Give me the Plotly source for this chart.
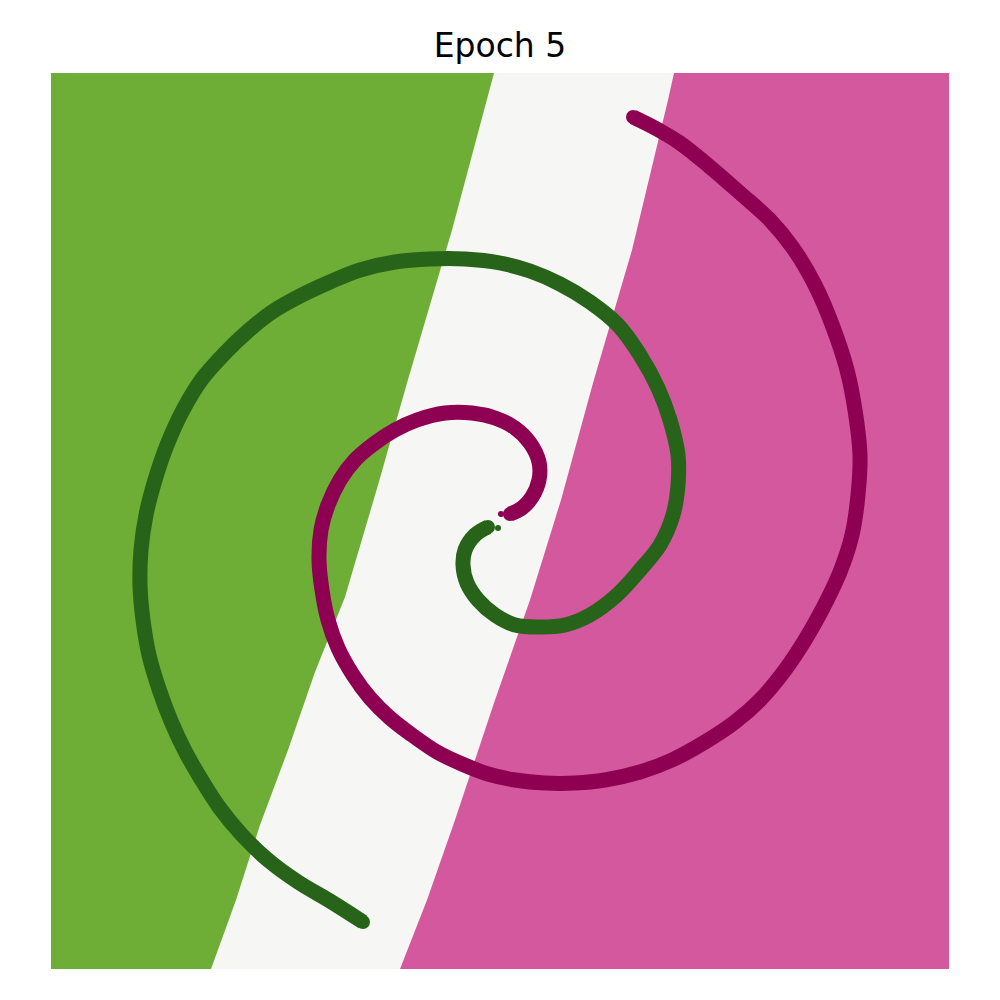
import plotly.graph_objects as go

# Decision-region boundaries (data units)
left_bx = [-0.06, -0.48, -0.93, -1.22, -1.55, -1.85, -2.12, -2.40, -2.64, -2.89]
left_by = [4.48, 2.91, 1.38, 0.36, -0.76, -1.51, -2.29, -3.04, -3.79, -4.48]
right_bx = [1.74, 1.68, 1.32, 0.93, 0.61, 0.30, -0.05, -0.45, -0.73, -1.00]
right_by = [4.48, 4.21, 2.71, 1.38, 0.21, -0.79, -1.79, -2.99, -3.79, -4.48]

X_MIN, X_MAX = -4.49, 4.49
Y_MIN, Y_MAX = -4.48, 4.48

# Class A (green) spiral
green_x = [-0.12, -0.25, -0.35, -0.37, -0.33, -0.22, -0.05, 0.15, 0.40, 0.65, 0.90, 1.17, 1.40,
           1.60, 1.73, 1.78, 1.78, 1.70, 1.58, 1.40, 1.18, 0.90, 0.60, 0.30, 0.00, -0.35, -0.70,
           -1.05, -1.40, -1.70, -2.00, -2.28, -2.52, -2.75, -2.98, -3.17, -3.33, -3.45, -3.54,
           -3.59, -3.60, -3.57, -3.51, -3.41, -3.29, -3.15, -2.99, -2.81, -2.58, -2.32, -2.02,
           -1.70, -1.37]
green_y = [-0.06, -0.14, -0.29, -0.44, -0.62, -0.79, -0.94, -1.04, -1.06, -1.04, -0.94, -0.74, -0.49,
           -0.24, 0.06, 0.36, 0.66, 1.01, 1.33, 1.66, 1.96, 2.19, 2.37, 2.50, 2.58, 2.62, 2.62,
           2.59, 2.51, 2.39, 2.25, 2.09, 1.90, 1.68, 1.42, 1.11, 0.76, 0.41, 0.06,
           -0.29, -0.64, -0.99, -1.34, -1.68, -2.00, -2.30, -2.58, -2.86, -3.14, -3.39, -3.61,
           -3.80, -4.01]
green_dot_x = [-0.02]
green_dot_y = [-0.07]

# Class B (magenta) spiral
mag_x = [0.10, 0.22, 0.32, 0.39, 0.39, 0.30, 0.15, -0.05, -0.28, -0.55, -0.83, -1.05, -1.25,
         -1.45, -1.60, -1.72, -1.79, -1.81, -1.78, -1.72, -1.62, -1.47, -1.30, -1.10, -0.88,
         -0.63, -0.38, -0.12, 0.15, 0.45, 0.75, 1.05, 1.40, 1.72, 2.05, 2.35, 2.60, 2.85, 3.05,
         3.23, 3.40, 3.52, 3.58, 3.60, 3.55, 3.47, 3.33, 3.15, 2.93, 2.70, 2.40, 2.10, 1.80,
         1.55, 1.33]
mag_y = [0.07, 0.13, 0.24, 0.41, 0.59, 0.78, 0.93, 1.03, 1.08, 1.08, 1.01, 0.91, 0.78,
         0.61, 0.41, 0.16, -0.09, -0.39, -0.69, -0.99, -1.27, -1.54, -1.77, -1.97, -2.14,
         -2.31, -2.43, -2.53, -2.59, -2.62, -2.62, -2.59, -2.51, -2.39, -2.21, -2.01, -1.79, -1.49, -1.19,
         -0.87, -0.51, -0.14, 0.26, 0.66, 1.11, 1.51, 1.94, 2.36, 2.73, 3.01, 3.28, 3.54, 3.78,
         3.93, 4.04]
mag_dot_x = [0.01]
mag_dot_y = [0.07]

REGION_GREEN = "#6ead36"
REGION_PINK = "#d4589d"
REGION_MID = "#f6f6f4"
POINT_GREEN = "#276419"
POINT_MAG = "#8e0152"

fig = go.Figure()

pad = 0.3
gx = [X_MIN - pad, left_bx[0]] + left_bx + [left_bx[-1], X_MIN - pad]
gy = [Y_MAX + pad, Y_MAX + pad] + left_by + [Y_MIN - pad, Y_MIN - pad]
fig.add_trace(go.Scatter(x=gx, y=gy, fill="toself", fillcolor=REGION_GREEN, mode="lines",
                         line=dict(width=0, color=REGION_GREEN),
                         hoverinfo="skip", showlegend=False))

px_ = [X_MAX + pad, right_bx[0]] + right_bx + [right_bx[-1], X_MAX + pad]
py_ = [Y_MAX + pad, Y_MAX + pad] + right_by + [Y_MIN - pad, Y_MIN - pad]
fig.add_trace(go.Scatter(x=px_, y=py_, fill="toself", fillcolor=REGION_PINK, mode="lines",
                         line=dict(width=0, color=REGION_PINK),
                         hoverinfo="skip", showlegend=False))

W = 15
for xs, ys, c in [(green_x, green_y, POINT_GREEN), (mag_x, mag_y, POINT_MAG)]:
    fig.add_trace(go.Scatter(x=xs, y=ys, mode="lines+markers",
                             line=dict(color=c, width=W, shape="spline", smoothing=1.0),
                             marker=dict(color=c, size=W - 1, line=dict(width=0)),
                             showlegend=False, hoverinfo="skip"))

for xs, ys, c in [(green_dot_x, green_dot_y, POINT_GREEN), (mag_dot_x, mag_dot_y, POINT_MAG)]:
    fig.add_trace(go.Scatter(x=xs, y=ys, mode="markers",
                             marker=dict(color=c, size=6, line=dict(width=0)),
                             showlegend=False, hoverinfo="skip"))

fig.update_layout(
    width=1000, height=1000,
    margin=dict(l=43, r=59, t=65, b=39),
    paper_bgcolor="white",
    plot_bgcolor=REGION_MID,
    title=dict(text="Epoch 5", x=0.492, xanchor="center", y=0.963, yanchor="middle",
               font=dict(family="DejaVu Sans", size=33, color="black")),
    xaxis=dict(range=[X_MIN, X_MAX], visible=False, showgrid=False, zeroline=False, fixedrange=True),
    yaxis=dict(range=[Y_MIN, Y_MAX], visible=False, showgrid=False, zeroline=False, fixedrange=True),
)

fig.write_html("out.html")
